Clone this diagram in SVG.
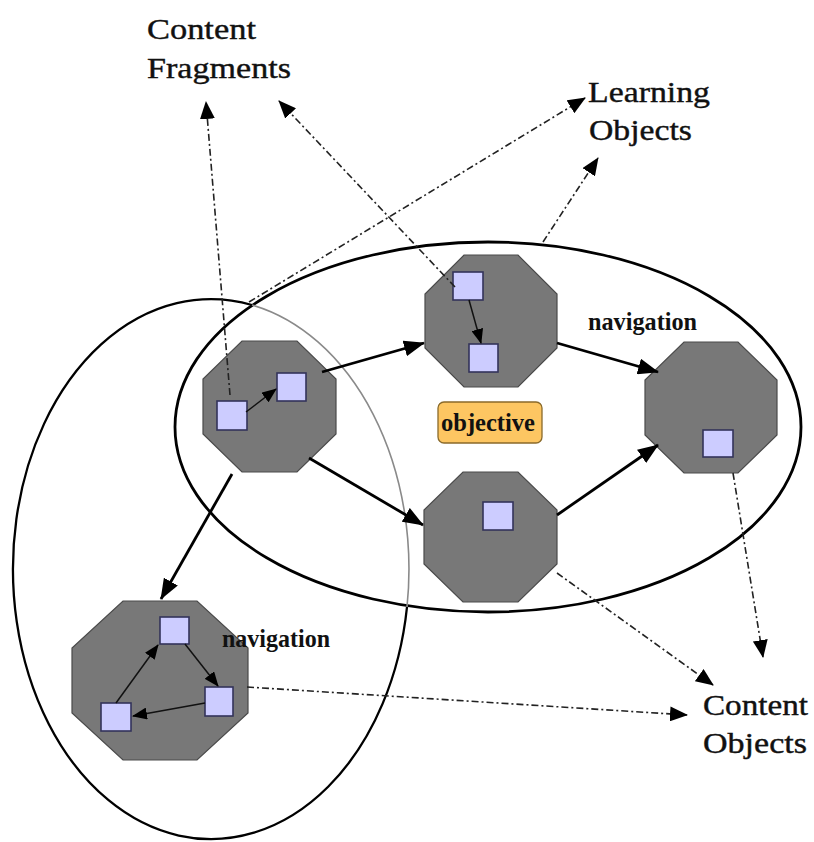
<svg xmlns="http://www.w3.org/2000/svg" width="814" height="842" viewBox="0 0 814 842">
<style>
.oct{fill:#787878;stroke:#4a4a4a;stroke-width:1.2}
.sq{fill:#ccccff;stroke:#33335a;stroke-width:1.6}
.thick{stroke:#000;stroke-width:2.8;fill:none;marker-end:url(#bigHead)}
.thin{stroke:#111;stroke-width:1.5;fill:none;marker-end:url(#smallHead)}
.dd{stroke:#222;stroke-width:1.6;fill:none;stroke-dasharray:7 3 2 3;marker-end:url(#ddHead)}
.lbl{font-family:"Liberation Serif","Times New Roman",serif;font-size:29px;fill:#111;stroke:#111;stroke-width:0.4}
.nav{font-family:"Liberation Serif","Times New Roman",serif;font-size:25px;font-weight:bold;fill:#111}
</style>
<defs>
<marker id="bigHead" markerUnits="userSpaceOnUse" markerWidth="21" markerHeight="16" refX="20" refY="8" orient="auto"><path d="M0,0 L21,8 L0,16 z" fill="#000"/></marker>
<marker id="smallHead" markerUnits="userSpaceOnUse" markerWidth="15" markerHeight="12" refX="14" refY="6" orient="auto"><path d="M0,0 L15,6 L0,12 z" fill="#000"/></marker>
<marker id="ddHead" markerUnits="userSpaceOnUse" markerWidth="18" markerHeight="15" refX="17" refY="7.5" orient="auto"><path d="M0,0 L18,7.5 L0,15 z" fill="#000"/></marker>
</defs>
<rect width="814" height="842" fill="#fff"/>
<g id="containers">
<ellipse id="objective-ellipse" cx="488" cy="427" rx="313" ry="185" fill="none" stroke="#000" stroke-width="2.8"/>
<path id="left-ellipse" d="M252,305 A198,270 0 1 0 407,607" fill="none" stroke="#000" stroke-width="2.3"/>
<path id="left-ellipse-inner" d="M252,305 A198,270 0 0 1 407,607" fill="none" stroke="#8a8a8a" stroke-width="1.6"/>
</g>
<g id="node-a">
<polygon class="oct" points="242,341 297,341 336,379 336,434 297,472 242,472 203,434 203,379"/>
<rect class="sq" x="217" y="401" width="30" height="29"/>
<rect class="sq" x="277" y="373" width="29" height="28"/>
<line class="thin" x1="246" y1="412" x2="276" y2="389"/>
</g>
<g id="node-b">
<polygon class="oct" points="464,255 518,255 557,294 557,348 518,387 464,387 425,348 425,294"/>
<rect class="sq" x="453" y="272" width="30" height="28"/>
<rect class="sq" x="469" y="344" width="29" height="28"/>
<line class="thin" x1="469" y1="300" x2="481" y2="343"/>
</g>
<g id="node-c">
<polygon class="oct" points="463,472 518,472 557,510 557,564 518,602 463,602 424,564 424,510"/>
<rect class="sq" x="483" y="502" width="30" height="28"/>
</g>
<g id="node-d">
<polygon class="oct" points="684,342 738,342 777,380 777,435 738,473 684,473 645,435 645,380"/>
<rect class="sq" x="703" y="430" width="30" height="27"/>
</g>
<g id="node-e">
<polygon class="oct" points="123,601 197,601 248,648 248,713 197,760 123,760 72,713 72,648"/>
<rect class="sq" x="160" y="617" width="29" height="27"/>
<rect class="sq" x="205" y="687" width="28" height="29"/>
<rect class="sq" x="101" y="703" width="30" height="28"/>
<line class="thin" x1="116" y1="703" x2="158" y2="645"/>
<line class="thin" x1="185" y1="644" x2="218" y2="686"/>
<line class="thin" x1="205" y1="703" x2="133" y2="716"/>
</g>
<g id="node-objective">
<rect x="438" y="402" width="104" height="41" rx="6" fill="#fdc662" stroke="#8a6a2a" stroke-width="1.3"/>
<text class="nav" x="441" y="431" textLength="94" lengthAdjust="spacingAndGlyphs">objective</text>
</g>
<g id="connectors">
<line class="thick" x1="322" y1="372" x2="424" y2="343"/>
<line class="thick" x1="309" y1="458" x2="423" y2="525"/>
<line class="thick" x1="232" y1="474" x2="161" y2="599"/>
<line class="thick" x1="557" y1="343" x2="658" y2="372"/>
<line class="thick" x1="557" y1="515" x2="658" y2="445"/>
<line class="dd" x1="230" y1="395" x2="206" y2="102"/>
<line class="dd" x1="455" y1="287" x2="279" y2="101"/>
<line class="dd" x1="249" y1="302" x2="585" y2="98"/>
<line class="dd" x1="543" y1="242" x2="598" y2="158"/>
<line class="dd" x1="557" y1="573" x2="713" y2="685"/>
<line class="dd" x1="733" y1="473" x2="763" y2="657"/>
<line class="dd" x1="247" y1="687" x2="687" y2="715"/>
</g>
<g id="labels">
<text class="lbl" x="147" y="39" textLength="109" lengthAdjust="spacingAndGlyphs">Content</text>
<text class="lbl" x="147" y="78" textLength="144" lengthAdjust="spacingAndGlyphs">Fragments</text>
<text class="lbl" x="588" y="102" textLength="122" lengthAdjust="spacingAndGlyphs">Learning</text>
<text class="lbl" x="589" y="140" textLength="103" lengthAdjust="spacingAndGlyphs">Objects</text>
<text class="lbl" x="703" y="715" textLength="105" lengthAdjust="spacingAndGlyphs">Content</text>
<text class="lbl" x="703" y="753" textLength="104" lengthAdjust="spacingAndGlyphs">Objects</text>
<text class="nav" x="588" y="330" textLength="109" lengthAdjust="spacingAndGlyphs">navigation</text>
<text class="nav" x="222" y="647" textLength="108" lengthAdjust="spacingAndGlyphs">navigation</text>
</g>
</svg>
